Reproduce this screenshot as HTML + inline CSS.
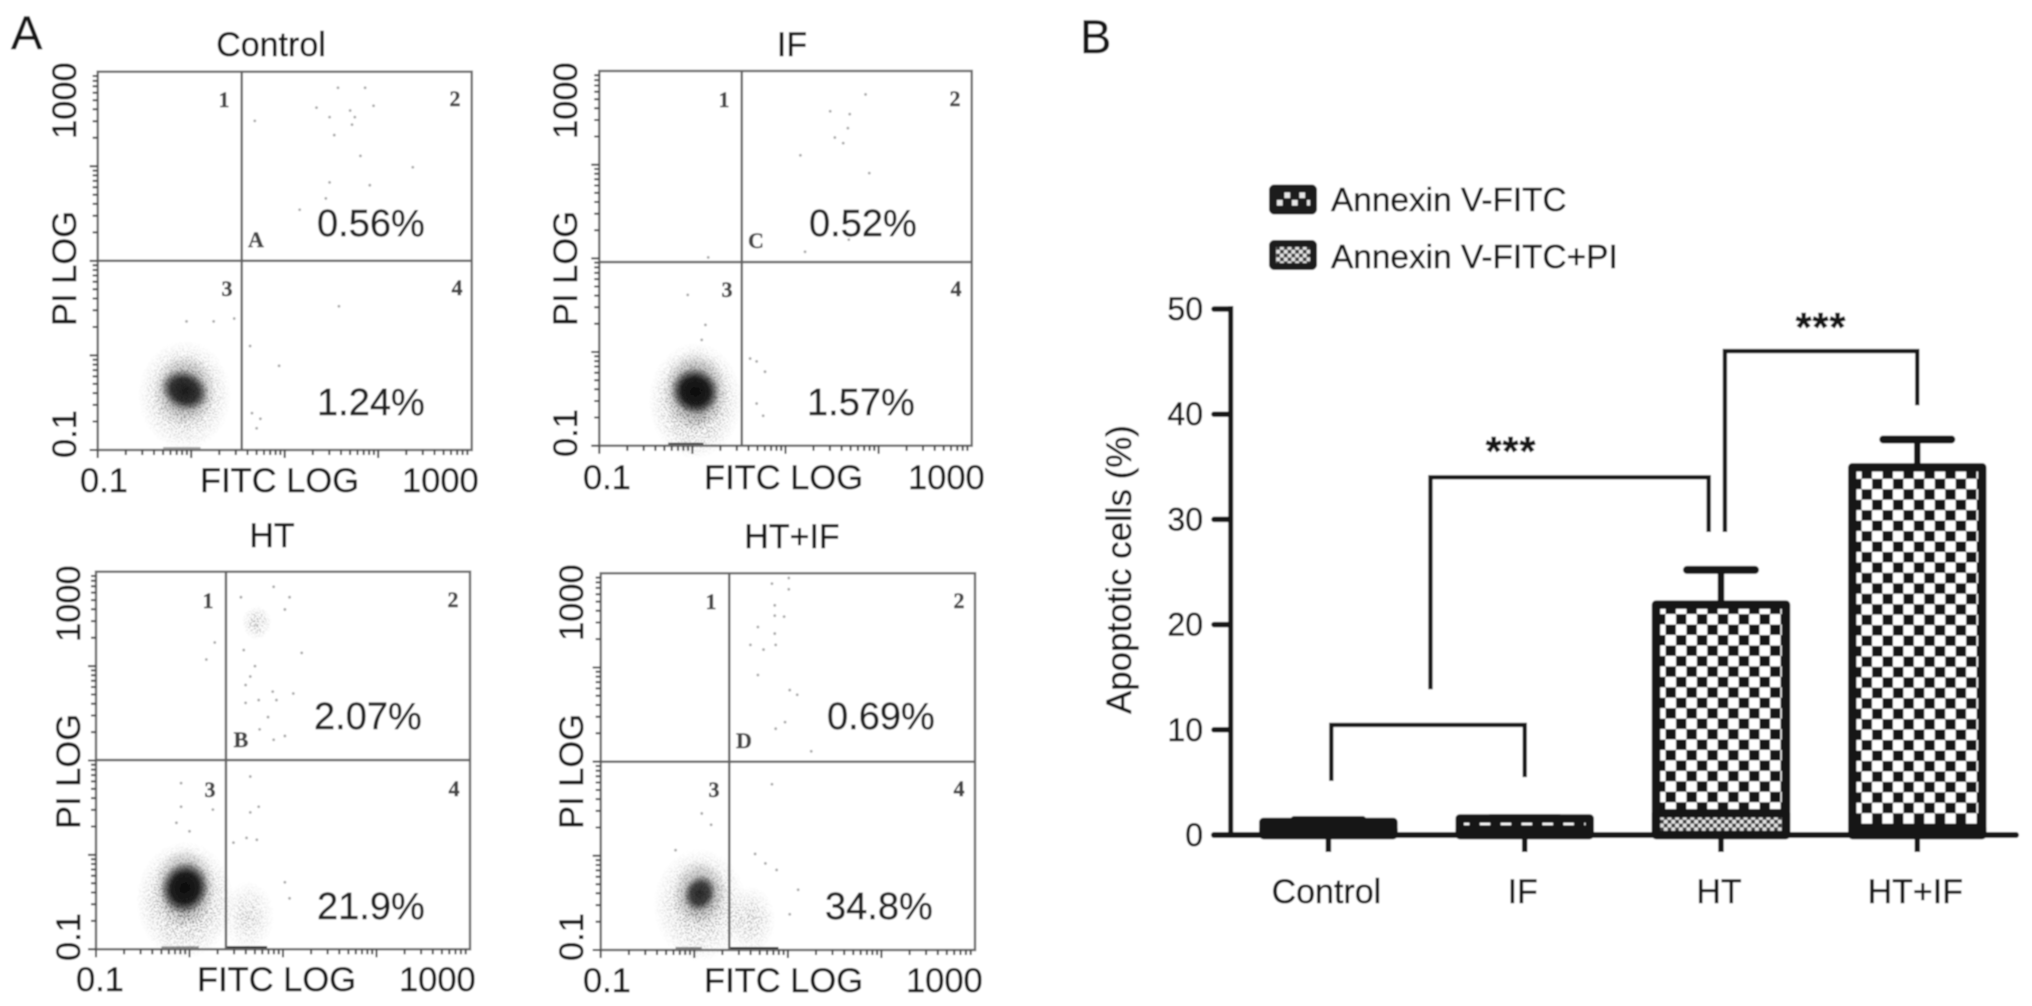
<!DOCTYPE html>
<html lang="en">
<head>
<meta charset="utf-8">
<title>Apoptosis flow cytometry and bar chart</title>
<style>
html,body{margin:0;padding:0;background:#fff;}
svg{display:block;}
text{font-family:"Liberation Sans",sans-serif;fill:#161616;stroke:#161616;stroke-width:.45px;}
.ax{font-size:34.5px;}
.ti{font-size:34px;text-anchor:middle;}
.pc{font-size:38px;fill:#222;stroke:#222;}
.tg{font-family:"Liberation Serif",serif;font-weight:bold;font-size:22px;text-anchor:middle;fill:#444;stroke:#444;}
.pn{font-size:47px;}
.lg{font-size:33.4px;}
.yt{font-size:34.9px;}
.st{font-size:41px;font-weight:bold;text-anchor:middle;letter-spacing:1px;}
</style>
</head>
<body>
<svg id="figure" xmlns="http://www.w3.org/2000/svg" width="2032" height="1006" viewBox="0 0 2032 1006">
<defs>
<filter id="soft" filterUnits="userSpaceOnUse" x="0" y="0" width="2032" height="1006"><feGaussianBlur stdDeviation="0.75"/></filter>
<filter id="grain" x="-5%" y="-5%" width="110%" height="110%">
<feTurbulence type="fractalNoise" baseFrequency="0.7" numOctaves="1" seed="7" result="n"/>
<feColorMatrix in="n" type="matrix" values="0 0 0 0 0 0 0 0 0 0 0 0 0 0 0 9 0 0 0 -4.5" result="m"/>
<feComposite in="SourceGraphic" in2="m" operator="in"/>
</filter>
<radialGradient id="cloud-core"><stop offset="0" stop-color="#0c0c0c" stop-opacity="1"/><stop offset="0.55" stop-color="#111" stop-opacity="0.9"/><stop offset="1" stop-color="#222" stop-opacity="0"/></radialGradient>
<radialGradient id="cloud-halo"><stop offset="0" stop-color="#111" stop-opacity="0.95"/><stop offset="0.5" stop-color="#222" stop-opacity="0.5"/><stop offset="1" stop-color="#444" stop-opacity="0"/></radialGradient>
<pattern id="check-control" width="20.9" height="20.9" patternUnits="userSpaceOnUse" patternTransform="translate(1479.8 818.8)"><rect width="20.9" height="20.9" fill="#fff"/><rect x="10.45" width="10.45" height="10.45" fill="#141414"/><rect y="10.45" width="10.45" height="10.45" fill="#141414"/></pattern>
<pattern id="check-if" width="20.9" height="20.9" patternUnits="userSpaceOnUse" patternTransform="translate(1479.8 818.8)"><rect width="20.9" height="20.9" fill="#fff"/><rect x="10.45" width="10.45" height="10.45" fill="#141414"/><rect y="10.45" width="10.45" height="10.45" fill="#141414"/></pattern>
<pattern id="check-ht" width="20.9" height="20.9" patternUnits="userSpaceOnUse" patternTransform="translate(1665.5 614.1)"><rect width="20.9" height="20.9" fill="#fff"/><rect x="10.45" width="10.45" height="10.45" fill="#141414"/><rect y="10.45" width="10.45" height="10.45" fill="#141414"/></pattern>
<pattern id="check-htif" width="20.9" height="20.9" patternUnits="userSpaceOnUse" patternTransform="translate(1882.5 478.8)"><rect width="20.9" height="20.9" fill="#fff"/><rect x="10.45" width="10.45" height="10.45" fill="#141414"/><rect y="10.45" width="10.45" height="10.45" fill="#141414"/></pattern>
<pattern id="check-fine" width="7.6" height="7.6" patternUnits="userSpaceOnUse" patternTransform="translate(1660 816)"><rect width="7.6" height="7.6" fill="#e4e4e4"/><rect x="3.8" width="3.8" height="3.8" fill="#3a3a3a"/><rect y="3.8" width="3.8" height="3.8" fill="#3a3a3a"/></pattern>
<pattern id="check-legend" width="15" height="15" patternUnits="userSpaceOnUse" patternTransform="translate(1276 191.5)"><rect width="15" height="15" fill="#1a1a1a"/><rect x="8.5" y="1" width="5.5" height="5.5" fill="#e8e8e8"/><rect x="1" y="8.5" width="5.5" height="5.5" fill="#e8e8e8"/></pattern>
</defs>

<g id="root" filter="url(#soft)">
<rect width="2032" height="1006" fill="#fff"/>
<g id="flow-layer"></g>

<text class="pn" x="11" y="49">A</text>
<text class="pn" x="1080" y="53">B</text>

<g>
<text class="ti" x="271" y="56">Control</text>
<text class="pc" x="317" y="236">0.56%</text>
<text class="pc" x="317" y="415">1.24%</text>
<text class="ax" x="80" y="492">0.1</text>
<text class="ax" x="200" y="492">FITC LOG</text>
<text class="ax" x="402" y="492">1000</text>
<text class="ax" transform="translate(76 458) rotate(-90)">0.1</text>
<text class="ax" transform="translate(76 326) rotate(-90)">PI LOG</text>
<text class="ax" transform="translate(76 139) rotate(-90)">1000</text>
<text class="tg" x="224" y="107">1</text>
<text class="tg" x="455" y="106">2</text>
<text class="tg" x="227" y="296">3</text>
<text class="tg" x="457" y="295">4</text>
<text class="tg" x="256" y="247">A</text>
</g>

<g>
<text class="ti" x="792" y="56">IF</text>
<text class="pc" x="809" y="236">0.52%</text>
<text class="pc" x="807" y="415">1.57%</text>
<text class="ax" x="583" y="489">0.1</text>
<text class="ax" x="704" y="489">FITC LOG</text>
<text class="ax" x="908" y="489">1000</text>
<text class="ax" transform="translate(577 457) rotate(-90)">0.1</text>
<text class="ax" transform="translate(577 326) rotate(-90)">PI LOG</text>
<text class="ax" transform="translate(577 139) rotate(-90)">1000</text>
<text class="tg" x="724" y="107">1</text>
<text class="tg" x="955" y="106">2</text>
<text class="tg" x="727" y="297">3</text>
<text class="tg" x="956" y="296">4</text>
<text class="tg" x="756" y="248">C</text>
</g>

<g>
<text class="ti" x="272" y="547">HT</text>
<text class="pc" x="314" y="729">2.07%</text>
<text class="pc" x="317" y="919">21.9%</text>
<text class="ax" x="76" y="991">0.1</text>
<text class="ax" x="197" y="991">FITC LOG</text>
<text class="ax" x="399" y="991">1000</text>
<text class="ax" transform="translate(80 961) rotate(-90)">0.1</text>
<text class="ax" transform="translate(80 829) rotate(-90)">PI LOG</text>
<text class="ax" transform="translate(80 642) rotate(-90)">1000</text>
<text class="tg" x="208" y="608">1</text>
<text class="tg" x="453" y="607">2</text>
<text class="tg" x="210" y="797">3</text>
<text class="tg" x="454" y="796">4</text>
<text class="tg" x="241" y="747">B</text>
</g>

<g>
<text class="ti" x="792" y="548">HT+IF</text>
<text class="pc" x="827" y="729">0.69%</text>
<text class="pc" x="825" y="919">34.8%</text>
<text class="ax" x="583" y="992">0.1</text>
<text class="ax" x="704" y="992">FITC LOG</text>
<text class="ax" x="906" y="992">1000</text>
<text class="ax" transform="translate(583 961) rotate(-90)">0.1</text>
<text class="ax" transform="translate(583 829) rotate(-90)">PI LOG</text>
<text class="ax" transform="translate(583 641) rotate(-90)">1000</text>
<text class="tg" x="711" y="609">1</text>
<text class="tg" x="959" y="608">2</text>
<text class="tg" x="714" y="797">3</text>
<text class="tg" x="959" y="796">4</text>
<text class="tg" x="744" y="748">D</text>
</g>

<g id="bar-layer"></g>

<g>
<g>
<rect x="1272.5" y="188" width="41" height="23" rx="2" fill="url(#check-legend)" stroke="#1a1a1a" stroke-width="7"/>
<text class="lg" x="1331" y="211">Annexin V-FITC</text>
</g>
<g>
<rect x="1272.5" y="243.5" width="41" height="23" rx="2" fill="url(#check-fine)" stroke="#1a1a1a" stroke-width="7"/>
<text class="lg" x="1331" y="268">Annexin V-FITC+PI</text>
</g>
</g>

<text class="yt" transform="translate(1131 714) rotate(-90)">Apoptotic cells (%)</text>
<text class="st" x="1511" y="465">***</text>
<text class="st" x="1821" y="341">***</text>
</g>

<script>
// ---- Flow-cytometry values (log10 units, axis runs -1 .. 3) ----
const controlDotsFitc = [0.68,1.57,1.86,1.34,1.70,1.95,1.48,1.75,1.72,1.53,1.81,2.37,1.48,1.91,1.44,1.16,1.58,0.94,0.63,0.65,0.74,0.70,0.24,-0.05,0.46];
const controlDotsPi   = [2.48,2.83,2.83,2.62,2.59,2.64,2.52,2.52,2.44,2.33,2.11,1.99,1.83,1.80,1.66,1.54,0.52,-0.11,0.10,-0.61,-0.67,-0.77,0.36,0.36,0.39];
const ifDotsFitc = [1.86,1.48,1.69,1.67,1.53,1.62,1.16,1.90,1.68,1.21,0.17,-0.05,0.14,0.10,0.78,0.76,0.69,0.62,0.69];
const ifDotsPi   = [2.75,2.57,2.54,2.39,2.29,2.23,2.10,1.91,1.20,1.07,1.01,0.61,0.29,0.13,-0.21,-0.68,-0.55,-0.07,-0.10];
const htDotsFitc = [0.90,1.07,0.55,1.02,0.27,0.18,1.20,0.58,0.70,0.65,0.60,0.89,1.11,0.93,0.74,0.60,0.84,0.75,1.02,0.90,0.65,-0.09,0.74,0.65,-0.09,-0.14,0.25,0.72,0.61,1.02,1.07,0.00,0.47];
const htDotsPi   = [2.84,2.73,2.73,2.60,2.25,2.07,2.14,2.17,2.00,1.89,1.80,1.73,1.71,1.64,1.64,1.61,1.46,1.33,1.26,1.22,0.83,0.76,0.51,0.45,0.51,0.34,0.48,0.16,0.18,-0.29,-0.46,0.25,0.13];
const htifDotsFitc = [0.83,1.01,1.01,0.86,0.86,0.96,0.68,0.86,0.60,0.74,0.87,0.68,1.02,1.10,0.97,0.87,1.25,0.83,0.08,0.18,-0.20,1.11,1.02,0.88,0.65,0.76];
const htifDotsPi   = [2.89,2.95,2.83,2.66,2.55,2.54,2.43,2.36,2.24,2.19,2.24,1.92,1.76,1.71,1.42,1.35,1.11,0.76,0.45,0.33,0.06,-0.36,-0.62,-0.15,0.02,-0.08];

const clusterFitc       = [-0.07, 0.03, -0.05, 0.06];
const clusterPi         = [-0.37, -0.42, -0.35, -0.40];
const haloPi            = [-0.42, -0.52, -0.48, -0.52];
const clusterSpreadFitc = [0.50, 0.50, 0.52, 0.50];
const clusterSpreadPi   = [0.58, 0.62, 0.62, 0.60];
const clusterDensity    = [0.85, 1.00, 1.00, 0.75];
const midSpreadFitc     = [0.34, 0.35, 0.33, 0.30];
const midSpreadPi       = [0.38, 0.42, 0.42, 0.36];
const coreSpreadFitc    = [0.27, 0.27, 0.26, 0.17];
const coreSpreadPi      = [0.21, 0.25, 0.28, 0.20];

const secondaryPanel  = [2, 2, 3];
const secondaryFitc   = [0.72, 0.63, 0.60];
const secondaryPi     = [2.46, -0.65, -0.68];
const secondaryWidth  = [0.16, 0.28, 0.27];
const secondaryHeight = [0.18, 0.38, 0.36];
const secondaryDensity = [0.55, 0.42, 0.48];

const edgePanel = [0, 1, 2, 2, 3, 3];
const edgeFrom  = [-0.30, -0.26, 0.40, -0.30, 0.38, -0.20];
const edgeTo    = [0.10, 0.12, 0.83, 0.10, 0.90, 0.08];
const edgeWeight = [0.35, 0.8, 1.0, 0.45, 1.0, 0.5];

const gateFitc = [0.54, 0.53, 0.39, 0.374];
const gatePi   = [1.00, 0.96, 1.005, 1.00];
const tickDecades = [-1, 0, 1, 2];
const tickMultipliers = [1, 2, 3, 4, 5, 6, 7, 8, 9];

// ---- Bar chart values ----
const categories = ['Control', 'IF', 'HT', 'HT+IF'];
const fitcValues = [1.24, 1.57, 21.9, 34.95];
const piValues   = [0.56, 0.52, 2.07, 0.69];
const errorTops  = [1.43, 1.62, 25.2, 37.6];
const yTickValues = [0, 10, 20, 30, 40, 50];
const yTickLabels = ['0', '10', '20', '30', '40', '50'];

const NS = 'http://www.w3.org/2000/svg';
function mk(tag, attrs, parent) {
  const el = document.createElementNS(NS, tag);
  for (const k in attrs) el.setAttribute(k, attrs[k]);
  parent.appendChild(el);
  return el;
}

// ---- Flow panels ----
const frames = [
  {key:'control', left:97.7, right:471.7, top:71.7, bottom:450},
  {key:'if', left:599.3, right:971.7, top:71, bottom:445.7},
  {key:'ht', left:96, right:470, top:571.7, bottom:949.3},
  {key:'ht-if', left:600.7, right:975, top:573.3, bottom:950}
];
const panelDotsFitc = [controlDotsFitc, ifDotsFitc, htDotsFitc, htifDotsFitc];
const panelDotsPi = [controlDotsPi, ifDotsPi, htDotsPi, htifDotsPi];
function xLog(p, v) { return p.left + (v + 1) / 4 * (p.right - p.left); }
function yLog(p, v) { return p.bottom - (v + 1) / 4 * (p.bottom - p.top); }
function spanX(p, v) { return v / 4 * (p.right - p.left); }
function spanY(p, v) { return v / 4 * (p.bottom - p.top); }

const flow = document.getElementById('flow-layer');
frames.forEach(function (p, i) {
  const g = mk('g', {}, flow);
  
  

  const cx = xLog(p, clusterFitc[i]);
  const cy = yLog(p, clusterPi[i]);
  const hy = yLog(p, haloPi[i]);
  const rot = 'rotate(25 ' + cx + ' ' + cy + ')';
  const halo = mk('ellipse', {cx: cx, cy: hy, rx: spanX(p, clusterSpreadFitc[i]), ry: spanY(p, clusterSpreadPi[i]), fill: 'url(#cloud-halo)', opacity: clusterDensity[i], filter: 'url(#grain)'}, g);
  
  
  const mid = mk('ellipse', {cx: cx, cy: cy, rx: spanX(p, midSpreadFitc[i]), ry: spanY(p, midSpreadPi[i]), fill: 'url(#cloud-halo)', opacity: clusterDensity[i] * 0.65}, g);
  
  
  const core = mk('ellipse', {cx: cx, cy: cy, rx: spanX(p, coreSpreadFitc[i]), ry: spanY(p, coreSpreadPi[i]), fill: 'url(#cloud-core)', opacity: clusterDensity[i], transform: rot}, g);
  
  

  secondaryPanel.forEach(function (pi, j) {
    if (pi !== i) return;
    const s = mk('ellipse', {cx: xLog(p, secondaryFitc[j]), cy: yLog(p, secondaryPi[j]), rx: spanX(p, secondaryWidth[j]), ry: spanY(p, secondaryHeight[j]), fill: 'url(#cloud-halo)', opacity: secondaryDensity[j], filter: 'url(#grain)'}, g);
    
    
  });

  panelDotsFitc[i].forEach(function (v, j) {
    const d = mk('circle', {cx: xLog(p, v), cy: yLog(p, panelDotsPi[i][j]), r: 1.4, fill: '#a8a8a8'}, g);
    
    
  });

  edgePanel.forEach(function (pi, j) {
    if (pi !== i) return;
    const e = mk('line', {x1: xLog(p, edgeFrom[j]), x2: xLog(p, edgeTo[j]), y1: p.bottom - 1.5, y2: p.bottom - 1.5, stroke: '#111', 'stroke-width': 3, opacity: edgeWeight[j]}, g);
    
    
  });

  const frame = mk('rect', {x: p.left, y: p.top, width: p.right - p.left, height: p.bottom - p.top, fill: 'none', stroke: '#6a6a6a', 'stroke-width': 2.4}, g);
  
  

  const gx = mk('line', {x1: xLog(p, gateFitc[i]), x2: xLog(p, gateFitc[i]), y1: p.top, y2: p.bottom, stroke: '#626262', 'stroke-width': 2.4}, g);
  
  
  const gy = mk('line', {x1: p.left, x2: p.right, y1: yLog(p, gatePi[i]), y2: yLog(p, gatePi[i]), stroke: '#626262', 'stroke-width': 2.4}, g);
  
  

  let tx = '', ty = '';
  tickDecades.forEach(function (d) {
    tickMultipliers.forEach(function (m) {
      const v = d + Math.log10(m);
      const len = m === 1 ? 8 : 5;
      const a = xLog(p, v);
      const b = yLog(p, v);
      tx += 'M' + a.toFixed(1) + ' ' + p.bottom + 'v' + len;
      ty += 'M' + p.left + ' ' + b.toFixed(1) + 'h-' + len;
    });
  });
  const xt = mk('path', {d: tx, stroke: '#444', 'stroke-width': 2, fill: 'none'}, g);
  
  
  const yt = mk('path', {d: ty, stroke: '#444', 'stroke-width': 2, fill: 'none'}, g);
  
  
});

// ---- Bar chart ----
const bars = document.getElementById('bar-layer');
const INK = '#141414';
function xCat(i) { return 1328.4 + i * 196.3; }
function yVal(v) { return 835 - v * 10.52; }
const BAR_W = 130;
const patternIds = ['check-control', 'check-if', 'check-ht', 'check-htif'];
const catKeys = ['control', 'if', 'ht', 'ht-if'];

categories.forEach(function (name, i) {
  const cx = xCat(i);
  const stem = mk('line', {x1: cx, x2: cx, y1: yVal(errorTops[i]), y2: yVal(fitcValues[i]), stroke: INK, 'stroke-width': 6.5}, bars);
  
  
  const cap = mk('line', {x1: cx - 34, x2: cx + 34, y1: yVal(errorTops[i]), y2: yVal(errorTops[i]), stroke: INK, 'stroke-width': 8, 'stroke-linecap': 'round'}, bars);
  
  

  const top = mk('rect', {x: cx - BAR_W / 2, y: yVal(fitcValues[i]), width: BAR_W, height: yVal(0) - yVal(fitcValues[i]), fill: 'url(#' + patternIds[i] + ')', stroke: INK, 'stroke-width': 8.5, 'stroke-linejoin': 'round'}, bars);
  
  
  const low = mk('rect', {x: cx - BAR_W / 2, y: yVal(piValues[i]), width: BAR_W, height: yVal(0) - yVal(piValues[i]), fill: 'url(#check-fine)', stroke: INK, 'stroke-width': 8.5, 'stroke-linejoin': 'round'}, bars);
  
  

  const tick = mk('line', {x1: cx, x2: cx, y1: yVal(0), y2: yVal(0) + 17, stroke: INK, 'stroke-width': 5.5}, bars);
  
  
  const lab = mk('text', {x: cx - 2, y: 903, 'text-anchor': 'middle', 'font-size': 34}, bars);
  
  
  lab.textContent = name;
});

const yAxis = mk('line', {x1: 1230.7, x2: 1230.7, y1: yVal(50) - 3, y2: yVal(0), stroke: INK, 'stroke-width': 5}, bars);


const xAxis = mk('line', {x1: 1214, x2: 2016, y1: yVal(0), y2: yVal(0), stroke: INK, 'stroke-width': 6, 'stroke-linecap': 'round'}, bars);



yTickValues.forEach(function (v, i) {
  const t = mk('line', {x1: 1214, x2: 1230, y1: yVal(v), y2: yVal(v), stroke: INK, 'stroke-width': 5.5, 'stroke-linecap': 'round'}, bars);
  
  
  const l = mk('text', {x: 1203, y: yVal(v) + 11, 'text-anchor': 'end', 'font-size': 32}, bars);
  
  
  l.textContent = yTickLabels[i];
});

function bracket(name, catA, catB, topV, legA, legB) {
  const a = xCat(catA);
  const b = xCat(catB);
  const d = 'M' + a + ' ' + yVal(legA) + 'V' + yVal(topV) + 'H' + b + 'V' + yVal(legB);
  const el = mk('path', {d: d, fill: 'none', stroke: INK, 'stroke-width': 4.4}, bars);
  
  
}
bracket('bracket-control-if', 0.015, 1, 10.46, 5.15, 5.5);
bracket('bracket-if-ht', 0.52, 1.937, 34, 13.85, 28.8);
bracket('bracket-ht-htif', 2.02, 3, 46, 28.8, 40.85);
</script>
</svg>
</body>
</html>
